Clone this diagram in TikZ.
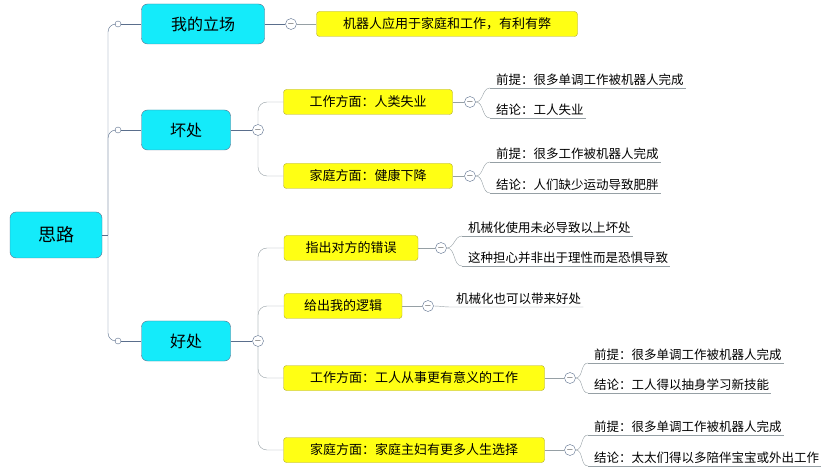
\documentclass[tikz,border=0pt]{standalone}
\usepackage{fontspec}
\setmainfont{Noto Sans CJK SC}
\usetikzlibrary{positioning}
\definecolor{linegray}{RGB}{150,160,165}
\definecolor{spineblue}{RGB}{90,110,140}
\definecolor{topiccyan}{RGB}{20,235,250}
\definecolor{subyellow}{RGB}{255,255,20}
\tikzset{
  rootbox/.style={draw=spineblue,fill=topiccyan,rounded corners=6pt,minimum width=92pt,minimum height=46pt,font=\fontsize{18}{18}\selectfont},
  mainbox/.style={draw=spineblue,fill=topiccyan,rounded corners=6pt,minimum height=40pt,font=\fontsize{16}{16}\selectfont},
  subbox/.style={draw=olive!70,fill=subyellow,rounded corners=3pt,minimum height=25pt,inner xsep=10pt,font=\fontsize{13}{13}\selectfont},
  leaf/.style={inner sep=2pt,anchor=south west,font=\fontsize{12.5}{13}\selectfont},
  minus/.style={circle,draw=spineblue,fill=white,inner sep=0pt,minimum size=11pt,font=\fontsize{9}{9}\selectfont},
  knob/.style={circle,draw=spineblue,fill=white,inner sep=0pt,minimum size=6pt},
  conn/.style={draw=linegray,thin,rounded corners=9pt}
}
\begin{document}
\begin{tikzpicture}[x=1pt,y=-1pt]
	\useasboundingbox (0,0) rectangle (836,473);
	% main column
	\node[rootbox] (root) at (56,235) {思路};
	\node[mainbox,minimum width=123pt] (stand) at (203,24) {我的立场};
	\node[mainbox,minimum width=89pt] (bad) at (186,130) {坏处};
	\node[mainbox,minimum width=89pt] (good) at (186,341) {好处};
	\coordinate (sp) at (108,235);
	\node[knob] (k1) at (118,24) {};
	\node[knob] (k2) at (118,130) {};
	\node[knob] (k3) at (118,341) {};
	\draw[spineblue] (root.east) -- (sp);
	\draw[spineblue,rounded corners=8pt] (sp) |- (k1);
	\draw[spineblue,rounded corners=8pt] (sp) |- (k2);
	\draw[spineblue,rounded corners=8pt] (sp) |- (k3);
	\draw[spineblue] (k1) -- (stand.west) (k2) -- (bad.west) (k3) -- (good.west);
	\node[minus] (m1) at (291,24) {$-$};
	\node[minus] (m2) at (258,130) {$-$};
	\node[minus] (m3) at (258,341) {$-$};
	\draw[spineblue] (stand.east) -- (m1) (bad.east) -- (m2) (good.east) -- (m3);
	% second level
	\node[subbox,minimum width=261pt] (view) at (447,24) {机器人应用于家庭和工作，有利有弊};
	\node[subbox,minimum width=169pt] (badwork) at (368,102) {工作方面：人类失业};
	\node[subbox,minimum width=169pt] (badhome) at (368,176) {家庭方面：健康下降};
	\node[subbox,minimum width=134pt] (wrong) at (351,248) {指出对方的错误};
	\node[subbox,minimum width=118pt] (logic) at (343,306) {给出我的逻辑};
	\node[subbox,minimum width=261pt] (goodwork) at (414,378) {工作方面：工人从事更有意义的工作};
	\node[subbox,minimum width=261pt] (goodhome) at (414,450) {家庭方面：家庭主妇有更多人生选择};
	\draw[conn] (m1) -- (view.west);
	\draw[conn] (m2) |- (badwork.west);
	\draw[conn] (m2) |- (badhome.west);
	\draw[conn] (m3) |- (wrong.west);
	\draw[conn] (m3) |- (logic.west);
	\draw[conn] (m3) |- (goodwork.west);
	\draw[conn] (m3) |- (goodhome.west);
	\node[minus] (m4) at (470,102) {$-$};
	\node[minus] (m5) at (470,176) {$-$};
	\node[minus] (m6) at (441,248) {$-$};
	\node[minus] (m7) at (428,306) {$-$};
	\node[minus] (m8) at (570,378) {$-$};
	\node[minus] (m9) at (570,450) {$-$};
	\draw[conn] (badwork.east) -- (m4) (badhome.east) -- (m5) (wrong.east) -- (m6)
	  (logic.east) -- (m7) (goodwork.east) -- (m8) (goodhome.east) -- (m9);
	% leaves
	\node[leaf] (l1) at (490,88) {\hspace{4pt}前提：很多单调工作被机器人完成\hspace{8pt}};
	\node[leaf] (l2) at (490,118) {\hspace{4pt}结论：工人失业\hspace{8pt}};
	\node[leaf] (l3) at (490,162) {\hspace{4pt}前提：很多工作被机器人完成\hspace{8pt}};
	\node[leaf] (l4) at (490,193) {\hspace{4pt}结论：人们缺少运动导致肥胖\hspace{8pt}};
	\node[leaf] (l5) at (462,236) {\hspace{4pt}机械化使用未必导致以上坏处\hspace{8pt}};
	\node[leaf] (l6) at (462,266) {\hspace{4pt}这种担心并非出于理性而是恐惧导致\hspace{4pt}};
	\node[leaf] (l7) at (450,307) {\hspace{4pt}机械化也可以带来好处\hspace{8pt}};
	\node[leaf] (l8) at (588,363) {\hspace{4pt}前提：很多单调工作被机器人完成\hspace{6pt}};
	\node[leaf] (l9) at (588,393) {\hspace{4pt}结论：工人得以抽身学习新技能\hspace{4pt}};
	\node[leaf] (l10) at (588,435) {\hspace{4pt}前提：很多单调工作被机器人完成\hspace{6pt}};
	\node[leaf] (l11) at (588,466) {\hspace{4pt}结论：太太们得以多陪伴宝宝或外出工作};
	\foreach \m/\a/\b in {m4/l1/l2, m5/l3/l4, m6/l5/l6, m8/l8/l9, m9/l10/l11}{
	  \draw[linegray] (\a.south west) -- (\a.south east) (\b.south west) -- (\b.south east);
	  \draw[linegray] (\m.east) to[out=0,in=180] (\a.south west);
	  \draw[linegray] (\m.east) to[out=0,in=180] (\b.south west);
	}
	\draw[linegray] (l7.south west) -- (l7.south east) (m7.east) to[out=0,in=180] (l7.south west);
\end{tikzpicture}
\end{document}
